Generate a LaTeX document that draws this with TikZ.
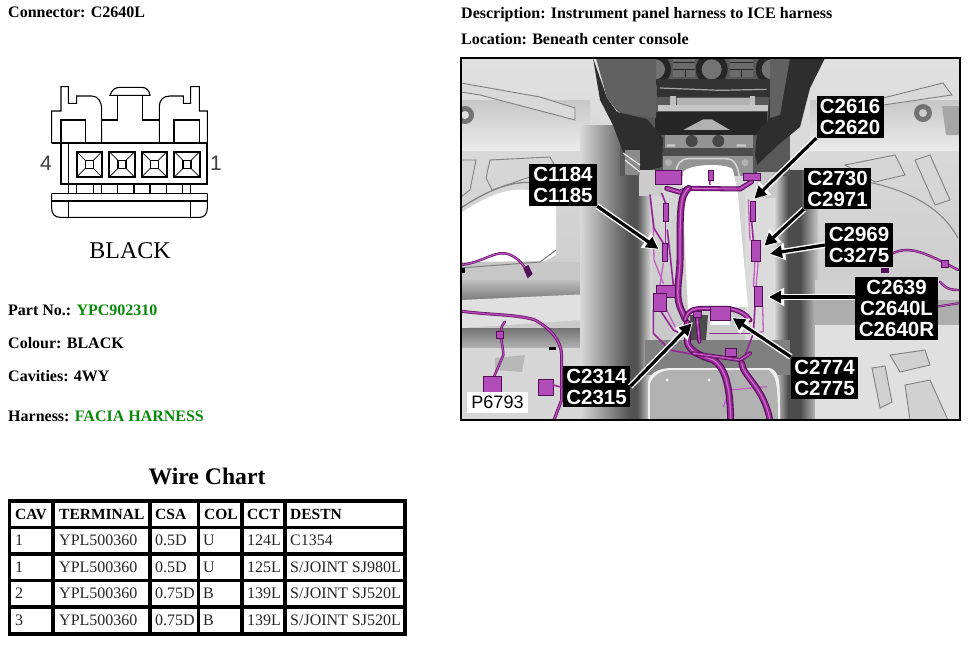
\documentclass[tikz,border=0pt]{standalone}
\usepackage{fontspec}
\setmainfont{Liberation Serif}
\setsansfont{Liberation Sans}
\usetikzlibrary{arrows.meta}
\definecolor{greentxt}{RGB}{8,136,8}
\definecolor{wmid}{RGB}{150,40,150}
\definecolor{wdark}{RGB}{85,15,90}
\definecolor{wlite}{RGB}{205,110,205}
\definecolor{cbody}{RGB}{178,76,184}
\tikzset{
  hdr/.style={font=\bfseries\fontsize{16}{18}\selectfont,anchor=base west,inner sep=0pt,text=black},
  cellh/.style={font=\bfseries\fontsize{15.5}{17}\selectfont,anchor=base west,inner sep=0pt},
  cellb/.style={font=\fontsize{16}{18}\selectfont,anchor=base west,inner sep=0pt,text=black!85},
  tag/.style={fill=black,text=white,font=\sffamily\bfseries\fontsize{20.5}{21}\selectfont,align=center,inner sep=0pt},
  conn/.style={draw=black,line width=1.1pt,line join=miter},
  connthick/.style={draw=black,line width=1.9pt},
  calloutW/.style={draw=white,line width=6pt,-{Triangle[length=17pt,width=17pt]}},
  calloutB/.style={draw=black,line width=3.2pt,shorten >=2pt,-{Triangle[length=12pt,width=12pt]}},
  plate/.style={draw=black!50,line width=.9pt,fill=white!85!black},
  cconn/.style={fill=cbody,draw=wdark,line width=.5pt},
}
\newcommand\calloutarrow[2]{\draw[calloutW] (#1) -- (#2);\draw[calloutB] (#1) -- (#2);}
\newcommand\wirefat[2]{\draw[wdark,line width=#1pt,line cap=round,line join=round] #2;
  \draw[wmid,line width=#1pt*0.68,line cap=round,line join=round] #2;
  \draw[wlite,line width=#1pt*0.18,line cap=round,line join=round] #2;}
\newcommand\wirethin[1]{\draw[wlite!80!wmid,line width=1.3pt,line cap=round,line join=round] #1;}
\newcommand\wiredk[1]{\draw[wmid,line width=1.6pt,line cap=round,line join=round] #1;}
\begin{document}
\begin{tikzpicture}[x=1pt,y=-1pt]
\useasboundingbox (0,0) rectangle (968,646);
\fill[white] (0,0) rectangle (968,646);

%%% header texts
\node[hdr] (conn) at (8,17) {Connector: C2640L};
\node[hdr] (desc) at (461,18) {Description: Instrument panel harness to ICE harness};
\node[hdr] (loc) at (461,44) {Location: Beneath center console};
\node[hdr] (part) at (8,315) {Part No.: \textcolor{greentxt}{YPC902310}};
\node[hdr] (colr) at (8,348) {Colour: BLACK};
\node[hdr] (cavs) at (8,381) {Cavities: 4WY};
\node[hdr] (harn) at (8,421) {Harness: \textcolor{greentxt}{FACIA HARNESS}};
\node[font=\bfseries\fontsize{23.7}{26}\selectfont,anchor=base,inner sep=0pt] (wc) at (207,484) {Wire Chart};

%%% connector drawing
\begin{scope}[shift={(0,60)},x=.3333pt,y=-.3333pt]
\draw[conn] (155,250)--(155,153)--(183,153)--(183,80)--(205,80)--(205,130)--(230,130)--(230,108)--(275,108)
  .. controls (295,108) and (305,125) .. (305,150)--(305,250);
\draw[conn] (305,180)--(352,180)--(352,108);
\draw[conn] (330,106) .. controls (335,90) and (345,82) .. (360,82)--(425,82) .. controls (440,82) and (448,92) .. (450,106)--cycle;
\draw[conn] (428,108)--(428,180)--(478,180);
\draw[conn] (478,250)--(478,140) .. controls (478,120) and (490,108) .. (510,108)--(550,108)--(550,130)--(572,130)--(572,80)--(598,80)--(598,153)--(622,153)--(622,250);
\draw[conn] (183,250)--(183,180)--(257,180)--(257,250);
\draw[conn] (522,250)--(522,180)--(598,180)--(598,250);
\draw[connthick] (155,250)--(622,250)--(622,373)--(183,373)--(183,250);
\draw[conn] (205,250)--(205,400);
\foreach \cx in {268,366,463,561}{
  \draw[black,line width=2pt] (\cx-38,275) rectangle (\cx+38,351);
  \draw[black,line width=.7pt] (\cx-38,275)--(\cx-12,301) (\cx+38,275)--(\cx+12,301) (\cx-38,351)--(\cx-12,325) (\cx+38,351)--(\cx+12,325);
  \draw[black,line width=1.3pt] (\cx-12,301) rectangle (\cx+12,325);
}
\draw[conn] (230,373)--(230,400)--(280,400)--(280,373);
\draw[conn] (305,373)--(305,400)--(352,400)--(352,373);
\draw[conn] (402,373)--(402,400)--(450,400)--(450,373);
\draw[conn] (500,373)--(500,400)--(548,400)--(548,373);
\draw[conn] (572,373)--(572,400);
\draw[conn] (155,400)--(622,400);
\draw[conn] (155,400)--(155,445) .. controls (155,462) and (165,472) .. (180,472)--(600,472) .. controls (612,472) and (622,462) .. (622,445)--(622,400);
\draw[connthick] (155,422)--(622,422);
\draw[conn] (205,422)--(205,472) (572,422)--(572,472);
\end{scope}
\node[font=\sffamily\fontsize{21}{22}\selectfont,inner sep=0pt,text=black!75] (four) at (46,163) {4};
\node[font=\sffamily\fontsize{21}{22}\selectfont,inner sep=0pt,text=black!75] (one) at (216,163) {1};
\node[font=\fontsize{24}{26}\selectfont,inner sep=0pt,anchor=base] (blk) at (130,258) {BLACK};

%%% wire chart
\fill[black] (8,499) rectangle (407,636);
\foreach \ya/\yb in {143/212,222/292,302/372,382/450,461/531}{
  \foreach \xa/\xb in {34/154,164/444,456/590,600/720,732/850,860/1210}{
    \fill[white] ({\xa/3},{455+\ya/3}) rectangle ({\xb/3},{455+\yb/3});
  }
}
\node[cellh] (h1) at (15,519) {CAV};
\node[cellh] (h2) at (59,519) {TERMINAL};
\node[cellh] (h3) at (155,519) {CSA};
\node[cellh] (h4) at (204,519) {COL};
\node[cellh] (h5) at (247,519) {CCT};
\node[cellh] (h6) at (290,519) {DESTN};
\foreach \yy/\a/\b/\c/\d/\e/\f/\k in {
  545/1/YPL500360/0.5D/U/124L/C1354/a,
  572/1/YPL500360/0.5D/U/125L/S\slash JOINT SJ980L/b,
  598/2/YPL500360/0.75D/B/139L/S\slash JOINT SJ520L/c,
  625/3/YPL500360/0.75D/B/139L/S\slash JOINT SJ520L/d}{
  \node[cellb] (r\k1) at (15,\yy) {\a};
  \node[cellb] (r\k2) at (59,\yy) {\b};
  \node[cellb] (r\k3) at (155,\yy) {\c};
  \node[cellb] (r\k4) at (203,\yy) {\d};
  \node[cellb] (r\k5) at (247,\yy) {\e};
  \node[cellb] (r\k6) at (290,\yy) {\f};
}

%%% photo
\begin{scope}
\clip (461,58) rectangle (960,420);
\shade[top color=black!12,bottom color=black!24] (461,58) rectangle (960,420);
% soft upper band
\shade[top color=black!22,bottom color=black!8] (461,100) rectangle (590,150);
\shade[top color=black!22,bottom color=black!8] (810,100) rectangle (960,150);
% left white cutout
\fill[white] (461,213) .. controls (495,190) and (530,178) .. (556,205)--(556,255)--(545,261)--(461,262)--cycle;
\draw[black!50,line width=1.2pt] (461,208) .. controls (495,185) and (530,174) .. (552,190);
% left plates
\draw[plate] (461,83)--(540,97)--(575,108)--(575,120)--(480,95)--(461,92);
\draw[plate,fill=black!16] (490,160)--(550,157)--(556,168)--(492,190)--(486,178)--cycle;
\draw[plate,fill=black!16] (461,160)--(476,160)--(470,190)--(461,197)--cycle;
\fill[black!55] (465,115) circle (9pt);\fill[black!12] (465,115) circle (4pt);
% right plates
\draw[plate] (883,98)--(943,83)--(952,95)--(883,105);
\fill[black!55] (923,113) circle (9pt);\fill[black!20] (923,113) circle (4pt);
\fill[black!35] (942,106)--(960,106)--(960,135)--(946,135)--cycle;
\draw[plate,fill=black!16] (845,165)--(895,155)--(905,175)--(875,182)--cycle;
\draw[plate,fill=black!16] (915,160)--(930,155)--(950,200)--(935,205)--cycle;
\draw[black!50,line width=1pt] (868,182) .. controls (905,190) and (940,205) .. (958,238);
% horizontal band left lower
\fill[black!22] (461,262) rectangle (620,280);
\shade[top color=black!25,bottom color=black!52] (461,280) rectangle (612,300);
\fill[black!12] (461,300) -- (612,293) -- (612,318) -- (461,328) -- cycle;
\shade[top color=black!55,bottom color=black!30] (461,328) rectangle (600,348);
\fill[black!16] (461,348) rectangle (600,420);
\draw[black!50,line width=1pt] (460,268)--(540,262)--(556,250);
\fill[black!75] (603,305) ellipse (3pt and 5pt);
\fill[black!28] (495,358) -- (525,355) -- (522,372) -- (495,370) -- cycle;
% columns
\shade[left color=black!15,right color=black!68] (580,125) rectangle (630,420);
\fill[black!68] (630,125) rectangle (637,420);
\shade[left color=black!68,right color=black!12] (637,125) rectangle (652,420);
\fill[black!14] (745,170) rectangle (774,420);
\shade[left color=black!14,right color=black!70] (774,170) rectangle (788,420);
\fill[black!70] (788,170) rectangle (800,420);
\shade[left color=black!70,right color=black!22] (800,170) rectangle (818,420);
% right lower panels
\fill[black!18] (815,280) rectangle (960,300);
\fill[black!32] (815,300) rectangle (960,325);
\fill[black!12] (815,325) rectangle (960,420);
\draw[plate,fill=black!18] (890,355)--(925,350)--(930,365)--(900,372)--cycle;
\draw[plate,fill=black!18] (872,368)--(885,366)--(892,402)--(880,408)--cycle;
\draw[plate,fill=black!18] (905,385)--(930,380)--(948,420)--(910,420)--cycle;
% center lower floor
\fill[black!50] (645,340) rectangle (790,375);
\fill[black!6] (648,420) -- (648,382) .. controls (650,372) and (660,368) .. (672,368) -- (770,368) .. controls (780,372) and (780,380) .. (780,420) -- cycle;
\fill[black!30] (650,420) -- (650,384) .. controls (653,375) and (662,370) .. (672,370) -- (768,370) .. controls (776,374) and (778,385) .. (778,420) -- cycle;
\fill[white] (667,380) circle (1.5pt) (709,380) circle (1.5pt);

% central stack (zoomed coordinates)
\begin{scope}[shift={(620,56)},x=.3333pt,y=-.3333pt]
\fill[black!65] (0,0) rectangle (510,360);
\foreach \kx in {105,275,455}{\fill[black!85] (\kx,40) circle (16pt);\fill[black!55] (\kx,40) circle (10pt);}
\fill[black!58] (160,8) rectangle (225,62);
\fill[black!58] (330,8) rectangle (400,62);
\draw[black!85,line width=.9pt] (160,20)--(225,20) (160,40)--(225,40) (330,20)--(400,20) (330,40)--(400,40) (195,40)--(195,62) (365,40)--(365,62);
\fill[black!80] (110,70) rectangle (450,122);
\draw[black!35,line width=1.2pt] (120,96)--(300,103)--(440,100);
\fill[black!30] (170,125) rectangle (395,148);
\fill[black!25] (150,120) rectangle (168,148);
\fill[black!25] (390,120) rectangle (405,148);
\fill[black!22] (115,146) rectangle (445,166);
\fill[black!85] (105,168) rectangle (440,238);
\fill[black!30] (190,222) -- (250,190) -- (275,190) -- (330,222) -- cycle;
\fill[black!42] (135,236) rectangle (400,276);
\fill[black!72] (215,255) circle (6pt) (295,255) circle (6pt);
\fill[black!20] (140,265) rectangle (165,272) (350,265) rectangle (378,272);
\fill[black!70] (130,276) rectangle (400,300);
\fill[black!42] (130,300) rectangle (400,360);
\draw[black!15,line width=1.5pt] (165,360) .. controls (170,320) and (185,308) .. (205,308) -- (320,308) .. controls (340,308) and (352,325) .. (358,360);
\fill[black!30] (145,320) circle (3.5pt) (375,320) circle (3.5pt);
\end{scope}

% left dark panel
\fill[black!82] (593,58)--(607,98)--(617,112)--(647,119)--(663,138)--(662,167)--(640,172)--(637,162)--(623,152)--(613,125)--(600,100)--cycle;
\fill[black!62] (596,58)--(656,58)--(656,118)--(618,112)--(607,98)--cycle;
% right dark panel
\fill[black!82] (825,58)--(810,88)--(800,127)--(778,145)--(757,165)--(755,155)--(757,132)--(768,120)--(770,88)--(777,58)--cycle;
\fill[black!62] (770,58)--(790,58)--(780,115)--(770,118)--cycle;
% light boxes
\fill[black!20] (639,170) rectangle (662,196);
\fill[black!22] (757,172) rectangle (777,198);
\fill[black!45] (625,150) rectangle (640,175);
\draw[white,line width=1pt] (623,153)--(640,165) (625,160)--(640,172);
% center opening
\fill[white] (683,198) -- (683,172) .. controls (690,163) and (730,163) .. (733,170) -- (738,195) -- (748,307) -- (688,310) -- (685,250) -- cycle;
\fill[black!70] (690,315)--(708,315)--(706,340)--(690,340)--cycle;
\fill[white] (710,315) rectangle (730,325);

%%% harness, zoom coordinates
\begin{scope}[shift={(630,160)},x=.3333pt,y=-.3333pt]
\wirethin{(62,120)--(70,200)--(72,300)--(100,370)}
\wiredk{(60,105)--(72,205)--(100,250)}
\wiredk{(107,185)--(107,250)}
\wiredk{(95,100)--(107,130)}
\wiredk{(112,210)--(130,375)}
\wirethin{(100,310)--(90,375)}
\wiredk{(365,185)--(370,240)}
\wirethin{(355,120)--(360,240)}
\wirethin{(375,305)--(370,380)}
\wirethin{(385,300)--(378,380)}
\wiredk{(375,440)--(370,520)--(340,600)}
\wirethin{(398,440)--(400,515)--(365,520)}
\wiredk{(70,450)--(70,520)--(120,570)--(250,595)}
\wiredk{(90,450)--(130,510)--(170,530)}
\wirethin{(110,450)--(140,510)}
\wiredk{(240,520)--(360,520)}
\wirethin{(280,740)--(300,690)--(410,680)}
\wirefat{2}{(240,60)--(240,72)}
\wirefat{5}{(110,85)--(150,97)--(175,85)--(330,87)--(365,65)}
\wirefat{7}{(175,85) .. controls (150,110) and (150,140) .. (150,300) .. controls (150,350) and (135,400) .. (150,440) -- (165,475)}
\wirefat{5}{(165,480) .. controls (175,445) and (195,445) .. (240,445) -- (290,445) .. controls (330,450) and (350,465) .. (360,480)}
\wirefat{7}{(172,490)--(172,545) .. controls (175,575) and (220,590) .. (250,600) .. controls (280,620) and (300,660) .. (302,780)}
\wirefat{4}{(190,580)--(330,600)--(360,580)}
\wirefat{6.5}{(335,610) .. controls (340,650) and (400,680) .. (420,780)}
\wirefat{4}{(200,460)--(208,545)}
\path[cconn] (75,32) rectangle (155,72);
\path[cconn] (340,40) rectangle (390,62);
\path[cconn] (234,30) rectangle (250,60);
\path[cconn] (100,130) rectangle (115,185);
\path[cconn] (360,125) rectangle (375,185);
\path[cconn] (98,250) rectangle (112,305);
\path[cconn] (365,240) rectangle (390,305);
\path[cconn] (372,378) rectangle (398,440);
\path[cconn] (80,375) rectangle (135,412);
\path[cconn] (70,400) rectangle (110,455);
\path[cconn] (240,440) rectangle (300,480);
\path[cconn] (285,565) rectangle (320,590);
\path[cconn] (190,455) rectangle (215,472);
\end{scope}

%%% left-lower harness
\begin{scope}[shift={(460,240)},x=.3333pt,y=-.3333pt]
\wirefat{2.4}{(0,75) .. controls (60,70) and (100,35) .. (135,40) .. controls (165,45) and (190,70) .. (205,100)}
\path[fill=wdark] (190,85) -- (205,75) -- (218,102) -- (203,115) -- cycle;
\fill[black] (0,85) rectangle (15,100);
\wirefat{3}{(0,213) .. controls (80,225) and (170,222) .. (225,240) .. controls (270,265) and (305,300) .. (305,350) -- (305,480) -- (280,545)}
\wirefat{2.4}{(135,245) .. controls (110,270) and (130,310) .. (130,345) -- (100,415)}
\path[cconn] (70,408) rectangle (125,458);
\path[cconn] (235,418) rectangle (280,465);
\wiredk{(280,435)--(305,442)}
\path[cconn] (108,275) rectangle (130,295);
\fill[black] (268,320) rectangle (288,330);
\end{scope}

%%% right-side harness
\begin{scope}[shift={(710,240)},x=.3333pt,y=-.3333pt]
\wirefat{2.4}{(548,40) .. controls (600,15) and (650,40) .. (745,90)}
\path[cconn] (693,60) rectangle (715,82);
\path[fill=wdark] (512,85) rectangle (536,100);
\wirefat{2.4}{(690,125) .. controls (710,150) and (730,150) .. (745,150)}
\wirefat{2}{(680,200)--(745,190)}
\end{scope}
\end{scope}
\draw[black,line width=2pt] (461,58) rectangle (960,420);

%%% callouts
\node[tag,minimum width=68pt,minimum height=42pt] (c1184) at (563,185) {C1184\\C1185};
\node[tag,minimum width=67pt,minimum height=42pt] (c2616) at (850,117) {C2616\\C2620};
\node[tag,minimum width=67pt,minimum height=41pt] (c2730) at (837.5,188.5) {C2730\\C2971};
\node[tag,minimum width=68pt,minimum height=44pt] (c2969) at (859,245) {C2969\\C3275};
\node[tag,minimum width=83pt,minimum height=63pt] (c2639) at (896.5,308.5) {C2639\\C2640L\\C2640R};
\node[tag,minimum width=67pt,minimum height=42pt] (c2774) at (824.5,378) {C2774\\C2775};
\node[tag,minimum width=67pt,minimum height=41pt] (c2314) at (596.5,386.5) {C2314\\C2315};
\node[fill=white,font=\sffamily\fontsize{18}{20}\selectfont,minimum width=61pt,minimum height=21pt,inner sep=0pt] (p6793) at (497.5,402.5) {P6793};
\coordinate (t1184) at (660,250);
\coordinate (t2616) at (753,200);
\coordinate (t2730) at (763,247);
\coordinate (t2969) at (768,254);
\coordinate (t2639) at (767,297);
\coordinate (t2774) at (731,317);
\coordinate (t2314) at (693,322);
\calloutarrow{c1184.south east}{t1184}
\calloutarrow{c2616.south west}{t2616}
\calloutarrow{c2730.south west}{t2730}
\calloutarrow{c2969.west}{t2969}
\calloutarrow{c2639.west|-t2639}{t2639}
\calloutarrow{c2774.north west}{t2774}
\calloutarrow{c2314.east}{t2314}
\end{tikzpicture}
\end{document}
